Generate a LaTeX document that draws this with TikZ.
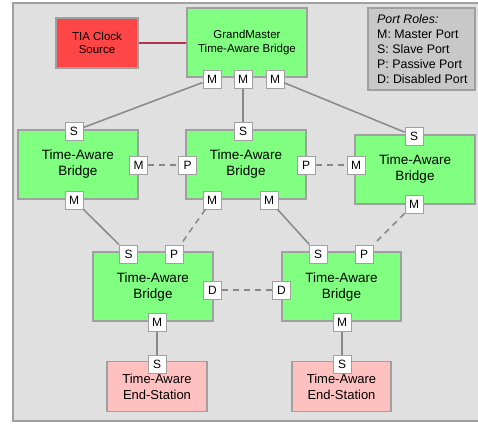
\documentclass[tikz,border=0pt]{standalone}
\usepackage{fontspec}
\setmainfont{Liberation Sans}
\begin{document}
\begin{tikzpicture}[x=1pt,y=-1pt]
\definecolor{bgc}{HTML}{E0E0E0}
\definecolor{bordc}{HTML}{A0A0A0}
\definecolor{linec}{HTML}{888888}
\definecolor{greenc}{HTML}{80FF80}
\definecolor{redc}{HTML}{FF4646}
\definecolor{pinkc}{HTML}{FFC0C0}
\definecolor{legc}{HTML}{C8C8C8}
\definecolor{redline}{HTML}{B8324A}
\tikzset{
  box/.style={draw=bordc, line width=1.1pt, inner sep=0pt, align=center},
  bridge/.style={box, fill=greenc, minimum width=120pt, minimum height=69pt,
    font=\fontsize{13.5}{16}\selectfont},
  station/.style={box, fill=pinkc, minimum width=100pt, minimum height=50pt,
    font=\fontsize{13}{16}\selectfont},
  port/.style={draw=bordc, line width=1pt, fill=white, minimum size=18pt, inner sep=0pt,
    font=\fontsize{12}{12}\selectfont},
  link/.style={draw=linec, line width=1.5pt},
  dlink/.style={link, dash pattern=on 6pt off 5pt},
}
\useasboundingbox (0,0) rectangle (478,424);
\clip (0,0) rectangle (478,424);
\draw[fill=bgc, draw=bordc, line width=1.5pt] (13,3) rectangle (485,421);

% boxes
\node[box, fill=redc, minimum width=82pt, minimum height=50pt,
  font=\fontsize{11.5}{13.5}\selectfont] (tia) at (97,43) {TIA Clock\\Source};
\node[bridge, font=\fontsize{11.5}{14}\selectfont] (gm) at (247,42.5) {GrandMaster\\Time-Aware Bridge};
\node[box, fill=legc, minimum width=107pt, minimum height=82pt] (leg) at (421.5,49) {};
\node[anchor=west, align=left, inner sep=0pt, font=\fontsize{12.4}{15}\selectfont] (legtext) at (377,49.5)
  {\textit{Port Roles:}\\M: Master Port\\S: Slave Port\\P: Passive Port\\D: Disabled Port};

\node[bridge] (lb) at (78,164.5) {Time-Aware\\Bridge};
\node[bridge] (mb) at (246,164.5) {Time-Aware\\Bridge};
\node[bridge] (rb) at (415,169.5) {Time-Aware\\Bridge};
\node[bridge, minimum width=120pt] (bl) at (153,286.5) {Time-Aware\\Bridge};
\node[bridge, minimum width=119pt] (br) at (341.5,286.5) {Time-Aware\\Bridge};
\node[station] (es1) at (157,386.5) {Time-Aware\\End-Station};
\node[station, minimum width=99pt] (es2) at (341.5,386.5) {Time-Aware\\End-Station};

% ports
\node[port] (gmm1) at (212,79) {M};
\node[port] (gmm2) at (243,79) {M};
\node[port] (gmm3) at (275,79) {M};

\node[port] (lbs) at (74,131) {S};
\node[port] (lbm) at (138.5,165) {M};
\node[port] (lbmb) at (74,200) {M};

\node[port] (mbs) at (243,131) {S};
\node[port] (mbpl) at (187.5,165) {P};
\node[port] (mbpr) at (306,165) {P};
\node[port] (mbm1) at (212,200) {M};
\node[port] (mbm2) at (269,200) {M};

\node[port] (rbm) at (356,165) {M};
\node[port] (rbs) at (414,136) {S};
\node[port] (rbmb) at (414,204) {M};

\node[port] (bls) at (128.5,254) {S};
\node[port] (blp) at (174,254) {P};
\node[port] (bld) at (212.5,290) {D};
\node[port] (blm) at (157,322) {M};

\node[port] (brs) at (318,254) {S};
\node[port] (brp) at (364,254) {P};
\node[port] (brd) at (281.5,290) {D};
\node[port] (brm) at (342,322) {M};

\node[port] (es1s) at (157,364) {S};
\node[port] (es2s) at (342,364) {S};

% connectors
\draw[draw=redline, line width=1.5pt] (tia.east) -- (tia.east -| gm.west);
\draw[link] (gmm1) -- (lbs);
\draw[link] (gmm2) -- (mbs);
\draw[link] (gmm3) -- (rbs);
\draw[dlink] (lbm) -- (mbpl);
\draw[dlink] (mbpr) -- (rbm);
\draw[link] (lbmb) -- (bls);
\draw[dlink] (mbm1) -- (blp);
\draw[link] (mbm2) -- (brs);
\draw[dlink] (rbmb) -- (brp);
\draw[dlink] (bld) -- (brd);
\draw[link] (blm) -- (es1s);
\draw[link] (brm) -- (es2s);
\end{tikzpicture}
\end{document}
